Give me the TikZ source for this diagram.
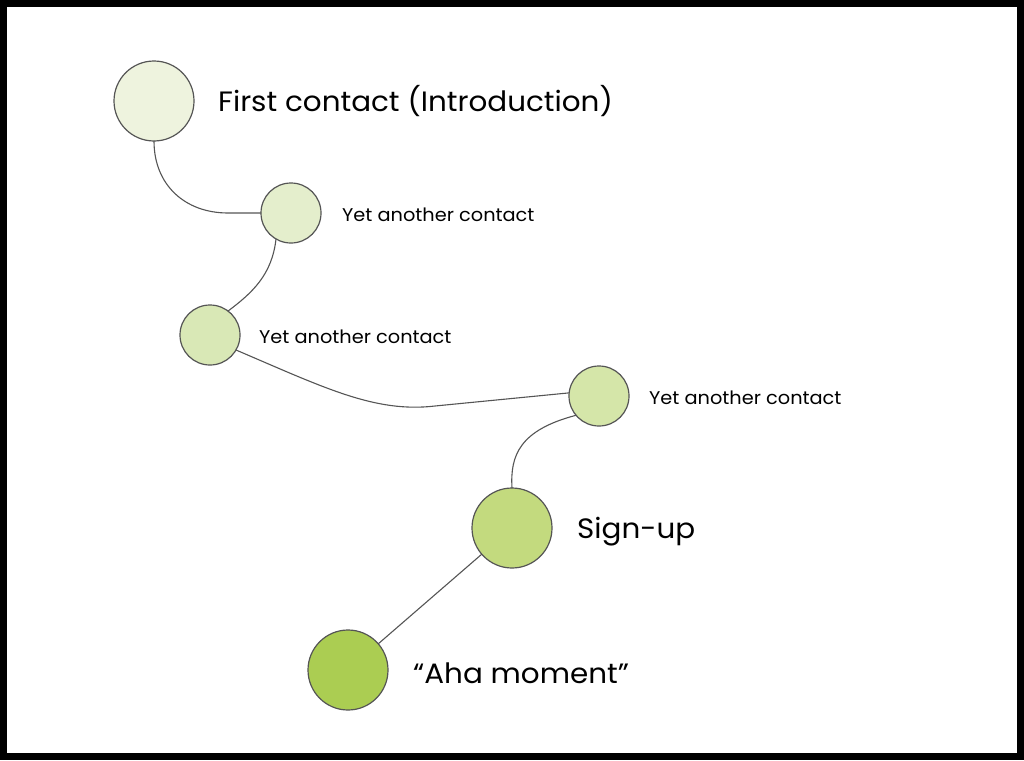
\documentclass[tikz,border=0pt]{standalone}
\usepackage{fontspec}
\setmainfont[FakeStretch=1.05]{Poppins}
\usepackage{tikz}
\usetikzlibrary{positioning}
\definecolor{stepA}{HTML}{EEF3DE}
\definecolor{stepB}{HTML}{E4EECC}
\definecolor{stepC}{HTML}{D9E8B6}
\definecolor{stepD}{HTML}{D5E6A9}
\definecolor{stepE}{HTML}{C3DA7E}
\definecolor{stepF}{HTML}{ABCD52}
\definecolor{rim}{HTML}{555555}
\tikzset{
    touchpoint/.style={circle, draw=rim, line width=1.2pt, inner sep=0pt, outer sep=0pt},
    bigpoint/.style={touchpoint, minimum size=80pt},
    smallpoint/.style={touchpoint, minimum size=60pt},
    biglabel/.style={inner sep=0pt, font=\fontsize{28}{32}\selectfont},
    smalllabel/.style={inner sep=0pt, yshift=-2pt, font=\fontsize{18.4}{22}\selectfont},
    link/.style={draw=rim, line width=1.1pt}
}
\begin{document}
\begin{tikzpicture}[x=1pt, y=-1pt]
            % frame
            \useasboundingbox (0,0) rectangle (1024,760);
            \fill[white] (0,0) rectangle (1024,760);
            \draw[line width=7pt] (3.5,3.5) rectangle (1020.5,756.5);

            % touch points
            \node[bigpoint, fill=stepA] (first) at (154,101) {};
            \node[smallpoint, fill=stepB] (contactA) at (291,213) {};
            \node[smallpoint, fill=stepC] (contactB) at (210,335) {};
            \node[smallpoint, fill=stepD] (contactC) at (599,396) {};
            \node[bigpoint, fill=stepE] (signup) at (512,528) {};
            \node[bigpoint, fill=stepF] (aha) at (348,670) {};

            \node[biglabel, right=24pt of first] {First contact (Introduction)};
            \node[smalllabel, right=21pt of contactA] {Yet another contact};
            \node[smalllabel, right=19pt of contactB] {Yet another contact};
            \node[smalllabel, right=20pt of contactC] {Yet another contact};
            \node[biglabel, yshift=-4pt, right=25pt of signup] {Sign-up};
            \node[biglabel, yshift=-3pt, right=25pt of aha] {“Aha moment”};

            % the journey
            \draw[link] (first.south) .. controls (154,185) and (185,213) .. (228,213) -- (contactA.west);
            \draw[link] (contactA.240) .. controls (272,275) and (252,293) .. (contactB.53);
            \draw[link] (contactB.330) .. controls (325,388) and (375,413) .. (435,406) -- (contactC.174);
            \draw[link] (contactC.220) .. controls (520,430) and (510,455) .. (signup.north);
            \draw[link] (signup) -- (aha);
        \end{tikzpicture}
\end{document}
